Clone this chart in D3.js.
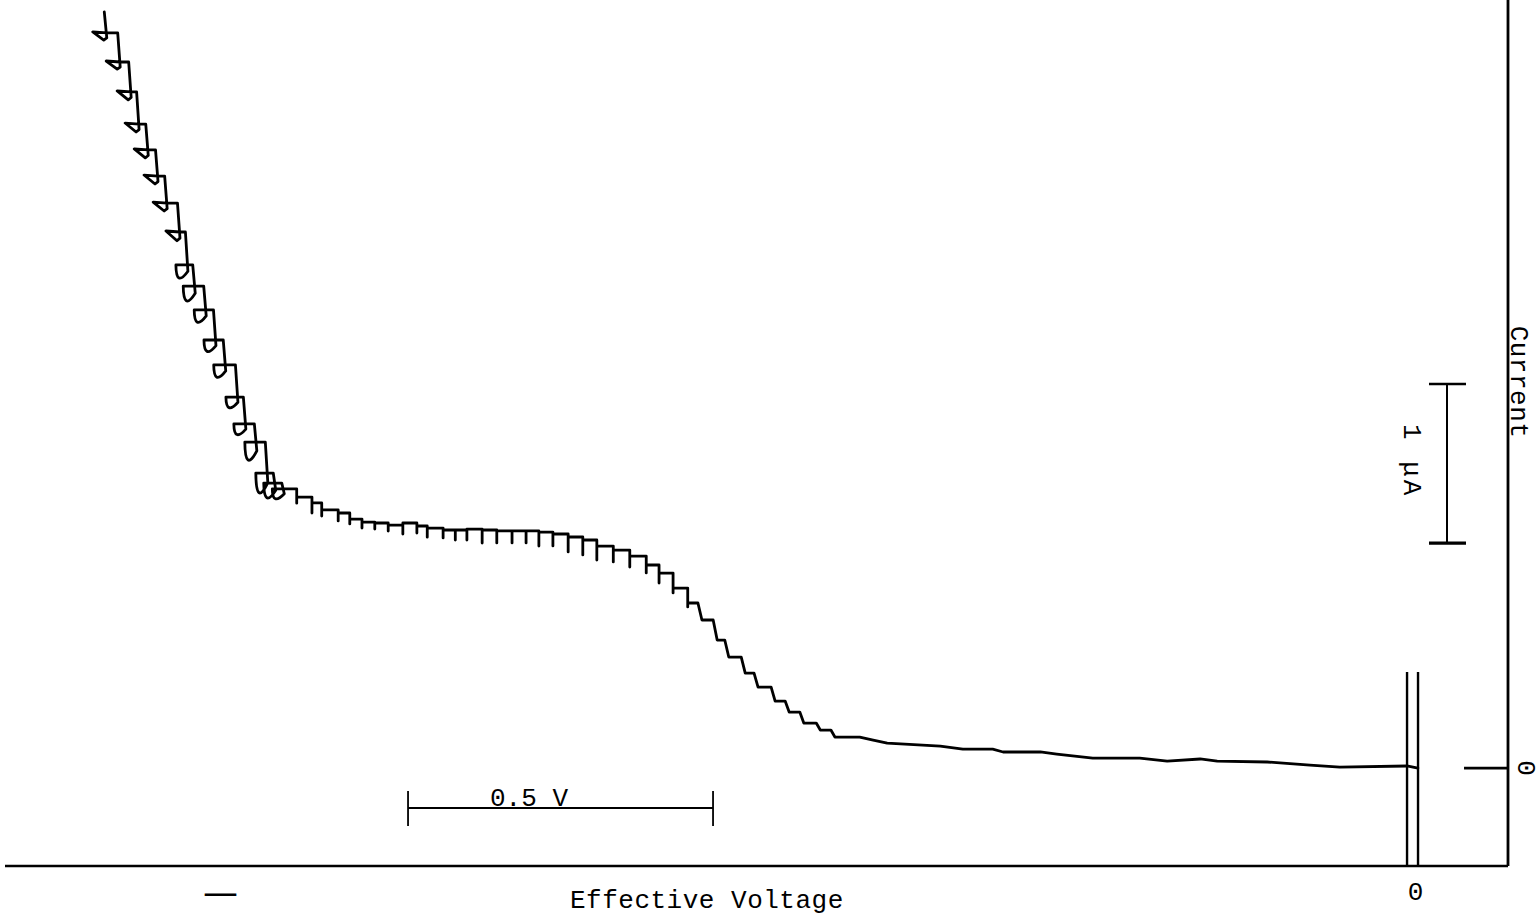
<!DOCTYPE html>
<html>
<head>
<meta charset="utf-8">
<script src="https://cdn.jsdelivr.net/npm/d3@7"></script>
<style>
  body { margin: 0; background: #fff; }
  .lbl { font-family: "Liberation Mono", "DejaVu Sans Mono", monospace; font-size: 26px; fill: #000; }
</style>
</head>
<body>
<div id="chart"></div>
<script>
// polarogram trace
// voltage in V (0 at the right), current in microamps
var startI = 4.755;

var stepV = [-2.143, -2.121, -2.103, -2.090, -2.075, -2.059, -2.044, -2.023, -2.010, -1.998,
  -1.980, -1.964, -1.948, -1.928, -1.915, -1.897, -1.879, -1.866, -1.852,
  -1.830, -1.805, -1.789, -1.762, -1.743, -1.723, -1.702, -1.680, -1.656, -1.633,
  -1.616, -1.590, -1.570, -1.551, -1.526, -1.502, -1.477, -1.454, -1.433, -1.410,
  -1.385, -1.361, -1.338, -1.311, -1.284, -1.257, -1.236, -1.213, -1.189, -1.169,
  -1.144, -1.125, -1.098, -1.077, -1.049, -1.026, -1.002, -0.975, -0.951];

var stepI = [4.623, 4.440, 4.252, 4.050, 3.887, 3.723, 3.553, 3.371, 3.164, 3.031,
  2.881, 2.692, 2.535, 2.333, 2.164, 2.050, 1.855, 1.792, 1.755,
  1.704, 1.667, 1.623, 1.604, 1.566, 1.547, 1.541, 1.528, 1.541, 1.522,
  1.509, 1.497, 1.497, 1.503, 1.497, 1.491, 1.491, 1.491, 1.484, 1.472,
  1.453, 1.434, 1.396, 1.371, 1.333, 1.277, 1.226, 1.132, 1.038, 0.931,
  0.805, 0.698, 0.597, 0.509, 0.421, 0.352, 0.283, 0.239, 0.195];

// how far the pen dips below each step when the drop falls
var stepDip = [0.045, 0.045, 0.05, 0.05, 0.05, 0.05, 0.05, 0.055, 0.08, 0.09,
  0.075, 0.07, 0.075, 0.065, 0.065, 0.11, 0.12, 0.09, 0.06,
  0.038, 0.063, 0.038, 0.05, 0.031, 0.038, 0.038, 0.038, 0.069, 0.044,
  0.057, 0.05, 0.063, 0.069, 0.082, 0.075, 0.075, 0.075, 0.088, 0.075,
  0.094, 0.094, 0.088, 0.075, 0.069, 0.05, 0.063, 0.031, 0.025, 0,
  0, 0, 0, 0, 0, 0, 0, 0, 0];

// residual current, smooth part of the trace
var tailV = [-0.907, -0.885, -0.862, -0.775, -0.738, -0.689, -0.672, -0.611, -0.584, -0.525,
  -0.448, -0.403, -0.349, -0.321, -0.239, -0.169, -0.120, -0.010, 0.008];
var tailI = [0.195, 0.176, 0.157, 0.138, 0.119, 0.119, 0.101, 0.101, 0.088, 0.063,
  0.063, 0.044, 0.057, 0.044, 0.038, 0.019, 0.006, 0.013, 0];

// scale bars
var voltBarStart = -1.6475;
var voltBarLen = 0.5;
var currBarStart = 1.415;
var currBarLen = 1;

var svgWidth = 1540;
var svgHeight = 917;

var svg = d3.select("#chart")
  .append("svg")
  .attr("width", svgWidth)
  .attr("height", svgHeight);

// Scales
// ==============================
var xScale = d3.scaleLinear()
  .domain([-2.3164, 0.1557])
  .range([0, 1508]);

var yScale = d3.scaleLinear()
  .domain([-0.616, 4.830])
  .range([866, 0]);

var axisX = xScale(0.1557);
var axisY = yScale(-0.616);

// Frame
// ==============================
svg.append("line")
  .attr("x1", 5).attr("x2", axisX)
  .attr("y1", axisY).attr("y2", axisY)
  .attr("stroke", "black").attr("stroke-width", 2.4);

svg.append("line")
  .attr("x1", axisX).attr("x2", axisX)
  .attr("y1", 0).attr("y2", axisY)
  .attr("stroke", "black").attr("stroke-width", 2.8);

// zero-voltage double line
[-0.0098, 0.0082].forEach(function(v) {
  svg.append("line")
    .attr("x1", xScale(v)).attr("x2", xScale(v))
    .attr("y1", 672).attr("y2", axisY)
    .attr("stroke", "black").attr("stroke-width", 2.4);
});

// zero-current mark
svg.append("line")
  .attr("x1", xScale(0.0836)).attr("x2", axisX)
  .attr("y1", yScale(0)).attr("y2", yScale(0))
  .attr("stroke", "black").attr("stroke-width", 2.8);

// Trace
// ==============================
var p = d3.path();
var loopW = 12;
p.moveTo(xScale(stepV[0]) - 1.5, yScale(startI));
var prevY = yScale(startI);
stepV.forEach(function(v, k) {
  var sx = xScale(v);
  var ly = yScale(stepI[k]);
  var d = yScale(stepI[k] - stepDip[k]) - ly;
  if (stepI[k] > 3.2) {
    // "4" shaped hooks at the top
    if (k > 0) p.lineTo(sx - 1.5, prevY);
    p.lineTo(sx + 1, ly + d * 0.7);
    p.lineTo(sx - 2, ly + d);
    p.lineTo(sx - loopW - 1, ly - 1);
    p.lineTo(sx + 1, ly);
  } else if (stepI[k] > 1.72) {
    // rounder loops lower down
    p.lineTo(sx - 1.5, prevY);
    p.lineTo(sx + 1, ly + 0.5 * d);
    p.quadraticCurveTo(sx - loopW * 0.9, ly + d * 1.8, sx - loopW + 1, ly);
    p.lineTo(sx + 1, ly);
  } else if (d > 0) {
    p.lineTo(sx, prevY);
    p.lineTo(sx, ly + d);
    p.lineTo(sx, ly);
  } else {
    // pen slews a little on the steep part
    p.lineTo(sx - 2, prevY);
    p.lineTo(sx + 2, ly);
  }
  prevY = ly;
});
tailV.forEach(function(v, k) {
  p.lineTo(xScale(v), yScale(tailI[k]));
});

svg.append("path")
  .attr("d", p.toString())
  .attr("fill", "none")
  .attr("stroke", "black")
  .attr("stroke-width", 2.8)
  .attr("stroke-linejoin", "round")
  .attr("stroke-linecap", "round");

// Scale bars
// ==============================
var vb = svg.append("g");
var vy = 808;
vb.append("line")
  .attr("x1", xScale(voltBarStart)).attr("x2", xScale(voltBarStart + voltBarLen))
  .attr("y1", vy).attr("y2", vy)
  .attr("stroke", "black").attr("stroke-width", 2);
[voltBarStart, voltBarStart + voltBarLen].forEach(function(v) {
  vb.append("line")
    .attr("x1", xScale(v)).attr("x2", xScale(v))
    .attr("y1", vy - 17).attr("y2", vy + 18)
    .attr("stroke", "black").attr("stroke-width", 1.8);
});
vb.append("text")
  .attr("class", "lbl")
  .attr("x", 490)
  .attr("y", vy - 2)
  .text("0.5 V");

var cx = xScale(0.0557);
var cb = svg.append("g");
cb.append("line")
  .attr("x1", cx).attr("x2", cx)
  .attr("y1", yScale(currBarStart)).attr("y2", yScale(currBarStart + currBarLen))
  .attr("stroke", "black").attr("stroke-width", 2);
[currBarStart, currBarStart + currBarLen].forEach(function(c, i) {
  cb.append("line")
    .attr("x1", cx - 18).attr("x2", cx + 19)
    .attr("y1", yScale(c)).attr("y2", yScale(c))
    .attr("stroke", "black").attr("stroke-width", i === 0 ? 3.2 : 2.4);
});
cb.append("text")
  .attr("class", "lbl")
  .attr("transform", "translate(1404, 424) rotate(90)")
  .attr("letter-spacing", 3)
  .text("1 μA");

// Labels
// ==============================
svg.append("text")
  .attr("class", "lbl")
  .attr("x", 570)
  .attr("y", 908)
  .attr("letter-spacing", 0.5)
  .text("Effective Voltage");

svg.append("text")
  .attr("class", "lbl")
  .attr("x", xScale(0.004))
  .attr("y", 900)
  .attr("text-anchor", "middle")
  .text("0");

svg.append("text")
  .attr("x", 203)
  .attr("y", 905)
  .attr("font-family", "DejaVu Sans")
  .attr("font-size", 35)
  .text("—");

svg.append("text")
  .attr("class", "lbl")
  .attr("transform", "translate(1511, 382) rotate(90)")
  .attr("text-anchor", "middle")
  .attr("letter-spacing", 0.5)
  .text("Current");

svg.append("text")
  .attr("class", "lbl")
  .attr("transform", "translate(1518, " + yScale(0) + ") rotate(90)")
  .attr("text-anchor", "middle")
  .text("0");
</script>
</body>
</html>
